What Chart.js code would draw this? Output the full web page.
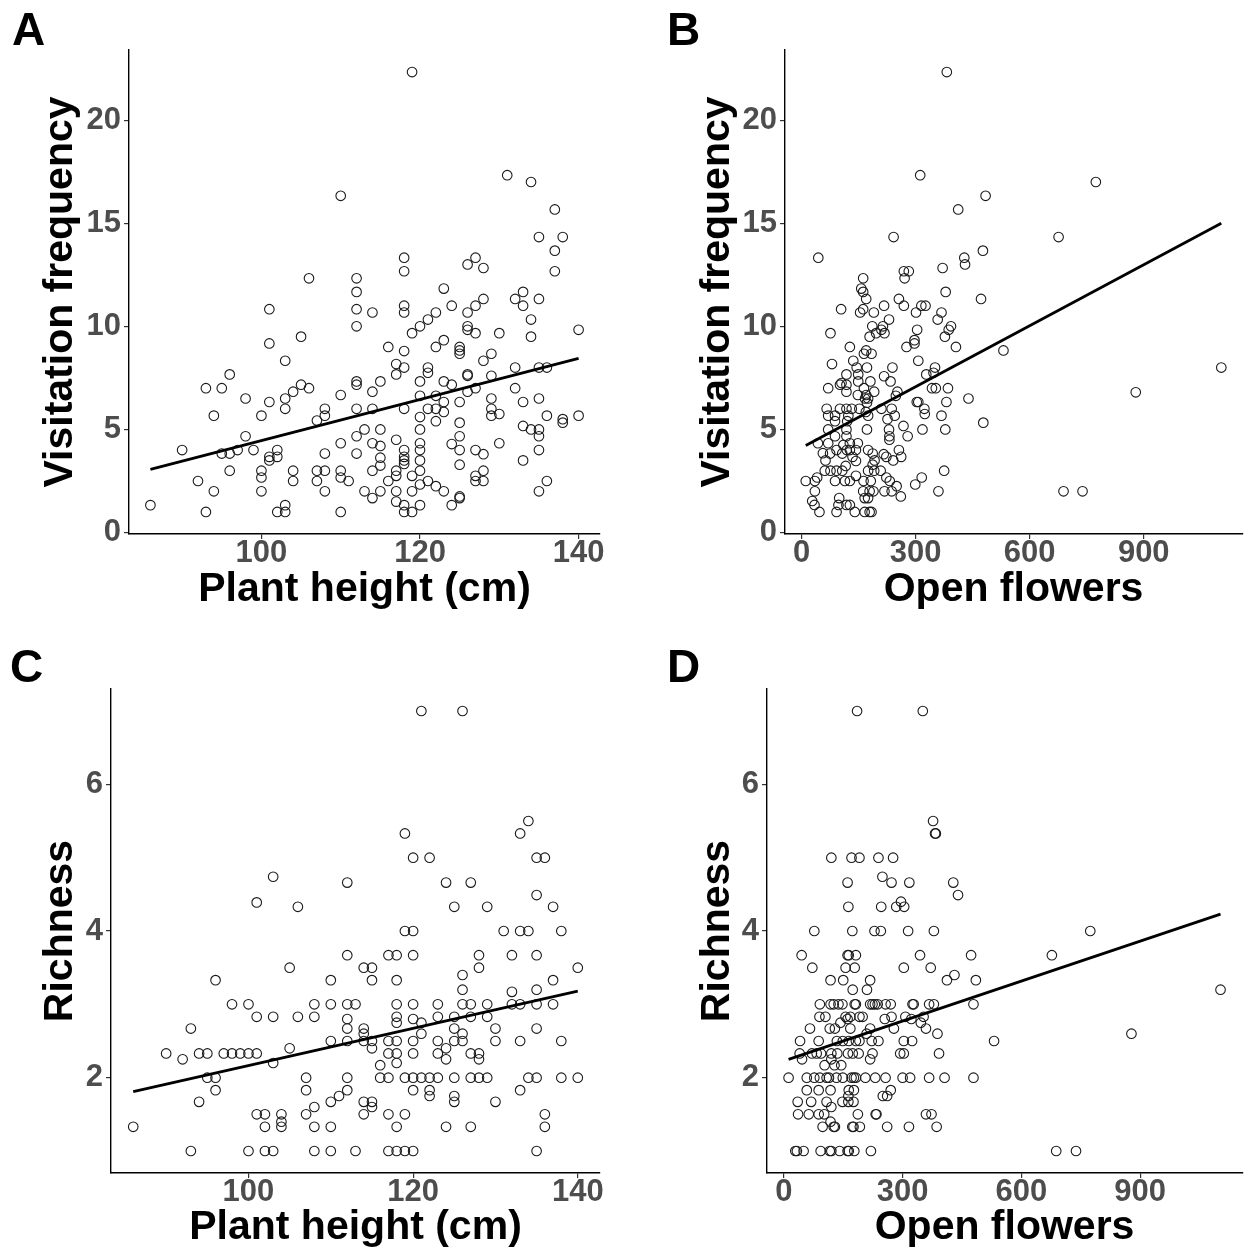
<!DOCTYPE html>
<html>
<head>
<meta charset="utf-8">
<script src="https://cdn.jsdelivr.net/npm/chart.js@4.4.1/dist/chart.umd.min.js"></script>
<style>
  html, body { margin: 0; padding: 0; background: #fff; }
  #wrap { position: relative; width: 1248px; height: 1254px; overflow: hidden; }
  .panel { position: absolute; width: 624px; height: 627px; }
  .letter { position: absolute; font: bold 46px "Liberation Sans", Arial, sans-serif; line-height: 1; color: #000; }
</style>
</head>
<body>
<div id="wrap">
  <div class="panel" style="left:0;top:0"><canvas id="chartA" width="624" height="627"></canvas></div>
  <div class="panel" style="left:624px;top:0"><canvas id="chartB" width="624" height="627"></canvas></div>
  <div class="panel" style="left:0;top:627px"><canvas id="chartC" width="624" height="627"></canvas></div>
  <div class="panel" style="left:624px;top:627px"><canvas id="chartD" width="624" height="627"></canvas></div>
  <div class="letter" style="left:12px;top:6px">A</div>
  <div class="letter" style="left:667px;top:6px">B</div>
  <div class="letter" style="left:10px;top:643px">C</div>
  <div class="letter" style="left:667px;top:643px">D</div>
</div>
<script>
// ticks
const heightTicks = [100, 120, 140];
const flowerTicks = [0, 300, 600, 900];
const visitTicks = [0, 5, 10, 15, 20];
const richTicks = [2, 4, 6];

// A: plant height vs visitation frequency
const heightVisit = [
  [86,1.33],[90,4.0],[92,2.5],[93,7.0],[93,1.0],[94,5.67],[94,2.0],[95,7.0],[95,3.83],[96,7.67],
  [96,3.83],[96,3.0],[97,4.0],[98,6.5],[98,4.67],[99,4.0],[100,5.67],[100,3.0],[100,2.67],[100,2.0],
  [101,10.83],[101,9.17],[101,6.33],[101,3.67],[101,3.5],[102,4.0],[102,3.67],[102,1.0],[103,8.33],[103,6.5],
  [103,6.0],[103,1.33],[103,1.0],[104,6.83],[104,3.0],[104,2.5],[105,9.5],[105,7.17],[106,12.33],[106,7.0],
  [107,5.43],[107,3.0],[107,2.5],[108,6.0],[108,5.67],[108,3.83],[108,3.0],[108,2.0],[110,16.33],[110,6.67],
  [110,4.33],[110,3.0],[110,2.67],[110,1.0],[111,2.5],[112,12.33],[112,11.67],[112,10.83],[112,10.0],[112,7.33],
  [112,7.17],[112,6.0],[112,4.67],[112,3.83],[113,5.0],[113,2.0],[114,10.67],[114,6.83],[114,6.0],[114,4.33],
  [114,3.0],[114,1.67],[115,7.33],[115,5.0],[115,4.2],[115,3.63],[115,3.25],[115,2.0],[116,9.0],[116,2.5],
  [117,8.17],[117,7.67],[117,4.5],[117,3.0],[117,2.75],[117,2.0],[117,1.5],[118,13.33],[118,12.67],[118,11.0],
  [118,10.67],[118,8.8],[118,8.0],[118,6.0],[118,4.0],[118,3.67],[118,3.5],[118,3.33],[118,1.33],[118,1.0],
  [119,22.33],[119,9.67],[119,2.75],[119,2.0],[119,1.0],[120,10.0],[120,7.33],[120,6.63],[120,5.6],[120,5.0],
  [120,4.33],[120,4.0],[120,3.5],[120,3.0],[120,2.33],[120,1.33],[121,10.33],[121,8.0],[121,7.75],[121,6.0],
  [121,2.5],[122,10.67],[122,9.0],[122,6.63],[122,6.0],[122,5.4],[122,2.25],[123,11.83],[123,9.33],[123,7.33],
  [123,6.33],[123,5.85],[123,2.0],[124,11.0],[124,7.17],[124,4.29],[124,1.33],[125,9.0],[125,8.83],[125,8.67],
  [125,6.33],[125,5.33],[125,4.67],[125,4.0],[125,3.29],[125,1.75],[125,1.67],[126,13.0],[126,10.67],[126,10.0],
  [126,9.83],[126,7.67],[126,7.6],[126,6.83],[127,13.33],[127,11.0],[127,9.67],[127,7.0],[127,4.0],[127,2.75],
  [127,2.5],[128,12.83],[128,11.33],[128,8.33],[128,3.8],[128,3.0],[128,2.5],[129,8.67],[129,7.6],[129,6.5],
  [129,6.0],[129,5.67],[130,9.67],[130,5.75],[130,4.33],[131,17.33],[132,11.33],[132,8.0],[132,7.0],[133,11.67],
  [133,11.0],[133,6.33],[133,5.17],[133,3.5],[134,17.0],[134,10.33],[134,9.5],[134,5.0],[135,14.33],[135,11.33],
  [135,8.0],[135,6.5],[135,5.0],[135,4.67],[135,4.0],[135,2.0],[136,8.0],[136,5.67],[136,2.5],[137,15.67],
  [137,13.67],[137,12.67],[138,14.33],[138,5.5],[138,5.33],[140,9.83],[140,5.67]
];
const fitA = [[86, 3.06], [140, 8.45]];

// B: open flowers vs visitation frequency
const flowersVisit = [
  [382,22.33],[312,17.33],[774,17.0],[484,16.33],[412,15.67],[242,14.33],[676,14.33],[477,13.67],[44,13.33],[428,13.33],
  [430,13.0],[371,12.83],[269,12.67],[282,12.67],[162,12.33],[271,12.33],[157,11.83],[162,11.67],[170,11.33],[379,11.67],
  [472,11.33],[256,11.33],[269,11.0],[217,11.0],[315,11.0],[326,11.0],[104,10.83],[162,10.83],[154,10.67],[190,10.67],
  [301,10.67],[368,10.67],[358,10.33],[230,10.33],[186,10.0],[214,10.0],[76,9.67],[196,9.67],[218,9.67],[210,9.83],
  [304,9.83],[393,10.0],[387,9.83],[377,9.5],[179,9.5],[297,9.33],[297,9.17],[276,9.0],[406,9.0],[127,9.0],
  [531,8.83],[170,8.83],[164,8.67],[184,8.67],[136,8.33],[307,8.33],[80,8.17],[145,8.0],[172,8.0],[239,8.0],
  [351,8.0],[1104,8.0],[118,7.67],[149,7.67],[217,7.58],[328,7.67],[347,7.75],[105,7.25],[101,7.17],[118,7.17],
  [149,7.33],[181,7.33],[234,7.33],[70,7.0],[164,7.0],[343,7.0],[353,7.0],[385,7.0],[118,6.83],[191,6.83],
  [252,6.83],[879,6.8],[148,6.67],[170,6.67],[248,6.63],[167,6.5],[175,6.5],[439,6.5],[172,6.3],[303,6.33],
  [307,6.33],[381,6.33],[66,6.0],[101,6.0],[118,6.0],[132,6.0],[152,6.0],[210,6.0],[237,6.0],[323,6.0],
  [70,5.67],[88,5.67],[123,5.67],[175,5.67],[245,5.67],[324,5.75],[368,5.67],[169,5.85],[88,5.4],[120,5.4],
  [226,5.5],[478,5.33],[268,5.17],[70,5.0],[118,5.0],[172,5.0],[230,5.0],[318,5.0],[378,5.0],[88,4.67],
  [118,4.67],[231,4.67],[279,4.67],[231,4.5],[43,4.33],[70,4.33],[110,4.25],[127,4.33],[148,4.33],[56,3.85],
  [75,3.83],[92,4.0],[107,3.83],[119,4.0],[127,4.0],[143,4.0],[175,4.0],[187,3.83],[216,3.8],[223,3.67],
  [256,4.0],[262,3.67],[63,3.5],[134,3.67],[143,3.47],[192,3.5],[241,3.5],[116,3.23],[187,3.29],[61,3.0],
  [76,3.0],[92,3.0],[107,3.0],[175,3.0],[191,3.0],[208,3.0],[375,3.0],[41,2.67],[143,2.75],[223,2.67],
  [316,2.67],[11,2.5],[35,2.5],[88,2.5],[114,2.5],[127,2.5],[163,2.5],[182,2.5],[232,2.5],[250,2.25],
  [299,2.33],[35,2.0],[162,2.0],[179,2.0],[189,2.0],[218,2.0],[237,2.0],[360,2.0],[689,2.0],[739,2.0],
  [28,1.53],[34,1.34],[99,1.67],[97,1.34],[118,1.34],[127,1.34],[166,1.67],[175,1.67],[261,1.75],[47,1.0],
  [92,1.0],[140,1.0],[166,1.0],[179,1.0],[184,1.0]
];
const fitB = [[11, 4.22], [1104, 15.0]];

// C: plant height vs richness
const heightRich = [
  [121,7],[126,7],[134,5.5],[119,5.33],[133,5.33],[120,5],[122,5],[135,5],[136,5],[103,4.74],
  [112,4.66],[124,4.66],[127,4.66],[135,4.49],[101,4.39],[106,4.33],[125,4.33],[129,4.33],[137,4.33],
  [119,4],[120,4],[131,4],[133,4],[134,4],[138,4],
  [112,3.67],[117,3.67],[118,3.67],[120,3.67],[128,3.67],[132,3.67],[135,3.67],
  [105,3.5],[114,3.5],[115,3.5],[128,3.5],[140,3.5],[126,3.4],
  [96,3.33],[110,3.33],[115,3.33],[118,3.33],[137,3.33],[126,3.2],[135,3.2],[132,3.17],
  [98,3],[100,3],[108,3],[110,3],[112,3],[113,3],[118,3],[120,3],[123,3],[126,3],[127,3],[129,3],[132,3],[133,3],[135,3],[137,3],
  [101,2.83],[103,2.83],[106,2.83],[108,2.83],[118,2.83],[123,2.83],[125,2.83],[127,2.83],[129,2.83],
  [112,2.8],[120,2.8],[118,2.75],[121,2.75],
  [93,2.67],[112,2.67],[114,2.67],[125,2.67],[130,2.67],[135,2.67],[121,2.6],[114,2.6],[126,2.6],
  [110,2.5],[112,2.5],[114,2.5],[115,2.5],[117,2.5],[118,2.5],[120,2.5],[123,2.5],[125,2.5],[126,2.5],[130,2.5],[133,2.5],[138,2.5],
  [105,2.4],[115,2.4],[124,2.4],
  [90,2.33],[94,2.33],[95,2.33],[97,2.33],[98,2.33],[99,2.33],[100,2.33],[101,2.33],[117,2.33],[118,2.33],[120,2.33],[123,2.33],[127,2.33],[128,2.33],
  [92,2.25],[124,2.25],[128,2.25],[103,2.2],[118,2.2],[116,2.17],
  [95,2],[96,2],[107,2],[112,2],[116,2],[117,2],[119,2],[120,2],[121,2],[122,2],[123,2],[125,2],[127,2],[128,2],[129,2],[134,2],[135,2],[138,2],[140,2],
  [96,1.83],[107,1.83],[112,1.83],[120,1.83],[122,1.83],[133,1.83],[125,1.75],[111,1.75],[122,1.75],
  [94,1.67],[110,1.67],[114,1.67],[115,1.67],[125,1.67],[130,1.67],[115,1.6],[108,1.6],
  [101,1.5],[102,1.5],[104,1.5],[107,1.5],[114,1.5],[117,1.5],[119,1.5],[136,1.5],[104,1.4],
  [86,1.33],[102,1.33],[104,1.33],[108,1.33],[110,1.33],[118,1.33],[124,1.33],[127,1.33],[136,1.33],
  [93,1],[100,1],[102,1],[103,1],[108,1],[110,1],[113,1],[117,1],[118,1],[119,1],[120,1],[135,1]
];
const fitC = [[86, 1.81], [140, 3.18]];

// D: open flowers vs richness
const flowersRich = [
  [185,7],[351,7],[377,5.5],[382,5.33],[384,5.33],[120,5],[171,5],[191,5],[239,5],[276,5],
  [249,4.74],[161,4.66],[272,4.66],[317,4.66],[428,4.66],[440,4.49],[296,4.4],[163,4.33],[246,4.33],[284,4.33],[304,4.33],
  [77,4],[173,4],[229,4],[245,4],[314,4],[379,4],[774,4],
  [45,3.67],[161,3.67],[164,3.67],[182,3.67],[344,3.67],[473,3.67],[677,3.67],
  [72,3.5],[156,3.5],[179,3.5],[303,3.5],[371,3.5],[431,3.4],
  [118,3.33],[150,3.33],[218,3.33],[412,3.33],[485,3.33],[174,3.2],[210,3.2],[1103,3.2],
  [91,3],[118,3],[126,3],[138,3],[148,3],[179,3],[182,3],[218,3],[224,3],[230,3],[237,3],[257,3],[270,3],[325,3],[328,3],[367,3],[379,3],[479,3],
  [90,2.83],[105,2.83],[156,2.83],[168,2.83],[191,2.83],[199,2.83],[272,2.83],[307,2.83],[353,2.83],
  [255,2.8],[322,2.8],[161,2.8],[143,2.75],[346,2.75],
  [66,2.67],[116,2.67],[129,2.67],[168,2.67],[218,2.67],[278,2.67],[359,2.67],[388,2.6],[209,2.6],[878,2.6],
  [41,2.5],[88,2.5],[134,2.5],[149,2.5],[164,2.5],[182,2.5],[191,2.5],[222,2.5],[239,2.5],[303,2.5],[324,2.5],[531,2.5],
  [40,2.33],[71,2.33],[83,2.33],[94,2.33],[120,2.33],[135,2.33],[162,2.33],[174,2.33],[189,2.33],[224,2.33],[294,2.33],[303,2.33],[392,2.33],
  [46,2.25],[120,2.25],[218,2.25],[103,2.17],[128,2.17],[145,2.17],
  [12,2],[58,2],[77,2],[91,2],[108,2],[114,2],[133,2],[149,2],[171,2],[177,2],[182,2],[206,2],[231,2],[257,2],[300,2],[319,2],[367,2],[406,2],[479,2],
  [58,1.83],[88,1.83],[118,1.83],[164,1.83],[177,1.83],[270,1.83],[250,1.75],[261,1.75],[163,1.75],
  [35,1.67],[69,1.67],[108,1.67],[148,1.67],[163,1.67],[176,1.67],[120,1.6],
  [36,1.5],[63,1.5],[88,1.5],[102,1.5],[187,1.5],[232,1.5],[234,1.5],[359,1.5],[373,1.5],[118,1.4],
  [98,1.33],[126,1.33],[129,1.33],[173,1.33],[176,1.33],[192,1.33],[261,1.33],[316,1.33],[386,1.33],
  [29,1],[33,1],[50,1],[93,1],[116,1],[120,1],[141,1],[161,1],[164,1],[178,1],[220,1],[688,1],[738,1]
];
const fitD = [[12, 2.25], [1103, 4.23]];

const FONT = '"Liberation Sans", Arial, Helvetica, sans-serif';

function toXY(arr) {
    return arr.map(p => ({x: p[0], y: p[1]}));
}

function makePanel(id, cfg) {
    const el = document.getElementById(id);
    return new Chart(el, {
        type: 'scatter',
        data: {
            datasets: [
                {
                    type: 'line',
                    data: toXY(cfg.fit),
                    borderColor: '#000',
                    borderWidth: 2.8,
                    pointRadius: 0,
                    showLine: true,
                    fill: false
                },
                {
                    data: toXY(cfg.points),
                    pointRadius: 4.8,
                    pointBorderWidth: 1.1,
                    borderColor: '#1a1a1a',
                    backgroundColor: 'rgba(0,0,0,0)'
                }
            ]
        },
        options: {
            responsive: false,
            animation: false,
            devicePixelRatio: 1,
            layout: {padding: {top: cfg.top, right: cfg.right, left: 0, bottom: 0}},
            plugins: {legend: {display: false}, tooltip: {enabled: false}},
            scales: {
                x: {
                    type: 'linear',
                    min: cfg.xMin,
                    max: cfg.xMax,
                    afterBuildTicks: s => { s.ticks = cfg.xTicks.map(v => ({value: v})); },
                    afterFit: s => { s.height = cfg.xH; s.paddingLeft = 0; s.paddingRight = 0; },
                    grid: {drawOnChartArea: false, tickLength: 5, color: '#333', lineWidth: 1.2},
                    border: {display: true, color: '#000', width: 1.4},
                    ticks: {
                        font: {family: FONT, size: 31, weight: 'bold', lineHeight: 1},
                        color: '#4d4d4d', padding: -1, maxRotation: 0, autoSkip: false
                    },
                    title: {
                        display: true, text: cfg.xTitle, color: '#000',
                        font: {family: FONT, size: 41, weight: 'bold', lineHeight: 1},
                        padding: {top: 0, bottom: cfg.xTitlePad}
                    }
                },
                y: {
                    type: 'linear',
                    min: cfg.yMin,
                    max: cfg.yMax,
                    afterBuildTicks: s => { s.ticks = cfg.yTicks.map(v => ({value: v})); },
                    afterFit: s => { s.width = cfg.yW; s.paddingTop = 0; s.paddingBottom = 0; },
                    grid: {drawOnChartArea: false, tickLength: 5, color: '#333', lineWidth: 1.2},
                    border: {display: true, color: '#000', width: 1.4},
                    ticks: {
                        font: {family: FONT, size: 31, weight: 'bold', lineHeight: 1},
                        color: '#4d4d4d', padding: 3, autoSkip: false
                    },
                    title: {
                        display: true, text: cfg.yTitle, color: '#000',
                        font: {family: FONT, size: 41, weight: 'bold', lineHeight: 1},
                        padding: {top: cfg.yTitlePad, bottom: 0}
                    }
                }
            }
        }
    });
}

makePanel('chartA', {
    points: heightVisit, fit: fitA, xTicks: heightTicks, yTicks: visitTicks,
    xMin: 83.3, xMax: 142.7, yMin: -0.07, yMax: 23.4,
    top: 50, right: 24, yW: 129, xH: 93, yTitlePad: 40, xTitlePad: 17,
    xTitle: 'Plant height (cm)', yTitle: 'Visitation frequency'
});
makePanel('chartB', {
    points: flowersVisit, fit: fitB, xTicks: flowerTicks, yTicks: visitTicks,
    xMin: -43.6, xMax: 1158.7, yMin: -0.07, yMax: 23.4,
    top: 50, right: 0, yW: 161, xH: 93, yTitlePad: 73, xTitlePad: 17,
    xTitle: 'Open flowers', yTitle: 'Visitation frequency'
});
makePanel('chartC', {
    points: heightRich, fit: fitC, xTicks: heightTicks, yTicks: richTicks,
    xMin: 83.3, xMax: 142.7, yMin: 0.7, yMax: 7.3,
    top: 62, right: 24, yW: 111, xH: 81, yTitlePad: 40, xTitlePad: 6,
    xTitle: 'Plant height (cm)', yTitle: 'Richness'
});
makePanel('chartD', {
    points: flowersRich, fit: fitD, xTicks: flowerTicks, yTicks: richTicks,
    xMin: -42.5, xMax: 1157.5, yMin: 0.7, yMax: 7.3,
    top: 62, right: 0, yW: 143, xH: 81, yTitlePad: 73, xTitlePad: 6,
    xTitle: 'Open flowers', yTitle: 'Richness'
});
</script>
</body>
</html>
